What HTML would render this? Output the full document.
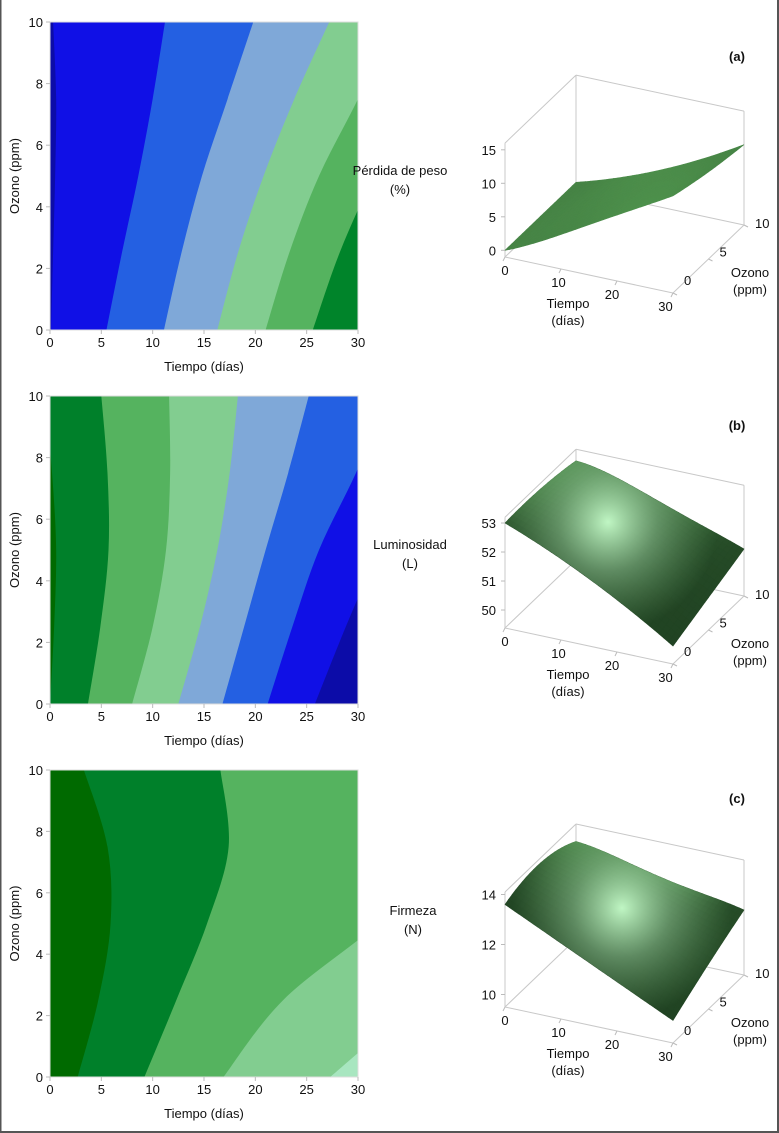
<!DOCTYPE html>
<html><head><meta charset="utf-8"><style>
html,body{margin:0;padding:0;background:#fff;}
svg{display:block;font-family:"Liberation Sans",sans-serif;}
</style></head><body>
<svg id="fig" width="779" height="1133" viewBox="0 0 779 1133" xmlns="http://www.w3.org/2000/svg">
<rect x="0.5" y="-1" width="777.5" height="1133" fill="#fff" stroke="#555" stroke-width="2"/>
<defs>
<clipPath id="clipA"><rect x="50" y="22" width="308" height="308"/></clipPath>
<clipPath id="clipB"><rect x="50" y="396" width="308" height="308"/></clipPath>
<clipPath id="clipC"><rect x="50" y="770" width="308" height="307"/></clipPath>
</defs>
<g id="layer"></g>
</svg>
<script>
// ---------- contour data (x = Tiempo at each ozone grid level) ----------
const ozGrid=[0,2.5,5,7.5,10];
const tTicks=[0,5,10,15,20,25,30];
const ozTicks=[0,2,4,6,8,10];
const colorsA=["#0c0ca8","#1010e6","#2460e2","#7fa8d8","#82cd90","#55b35f","#00842a"];
const boundsA=[[0.1,0.3,0.5,0.6,0.3],[5.5,7.0,8.6,10.0,11.2],[11.1,12.8,14.8,17.3,19.8],[16.3,18.3,20.8,23.8,27.2],[21.0,23.3,26.2,30.0,33.5],[25.6,28.2,31.5,35,38.5]];
const colorsB=["#006a00","#00802a","#55b35f","#82cd90","#7fa8d8","#2460e2","#1010e6","#0c0ca8"];
const boundsB=[[0.0,0.4,0.6,0.2,-0.5],[3.7,4.9,5.7,5.6,5.0],[8.0,10.0,11.3,11.7,11.6],[12.5,14.6,16.3,17.5,18.3],[16.8,18.9,21.0,23.2,25.2],[21.2,23.6,26.2,29.8,33],[25.8,28.8,32,35,38]];
const colorsC=["#006a00","#00802a","#55b35f","#82cd90","#a8e6c0"];
const boundsC=[[2.7,4.7,5.9,5.6,3.3],[9.2,12.3,15.3,17.4,16.6],[16.9,22.7,32,40,48],[27.3,36,45,55,65]];
// ---------- surface data ----------
const tS=[0,7.5,15,22.5,30];
const ozS=[0,5,10];
const zA=[[0,3.0,6.5,10,13.5],[0,2.5,5.5,8.5,12],[0,2,4.5,7.5,11]];
const zB=[[53.0,52.4,51.7,50.9,50.0],[53.0,52.7,52.1,51.3,50.5],[52.8,52.5,52.0,51.5,51.0]];
const zC=[[13.6,12.8,12.0,11.2,10.4],[13.9,13.4,12.8,12.0,11.3],[13.4,13.1,12.7,12.4,12.1]];
const zTicksA=[0,5,10,15], zTicksB=[50,51,52,53], zTicksC=[10,12,14];

const NS="http://www.w3.org/2000/svg";
const L=document.getElementById('layer');
const DEFS=document.querySelector('defs');
function el(tag,attrs,parent){const e=document.createElementNS(NS,tag);for(const k in attrs)e.setAttribute(k,attrs[k]);(parent||L).appendChild(e);return e;}
function txt(s,x,y,attrs,parent){const e=el('text',Object.assign({x:x,y:y,'font-size':13,fill:'#111'},attrs||{}),parent);e.textContent=s;return e;}

function contour(name,top,h,colors,bounds,clip){
  const g=el('g',{});
  
  
  const x0=50,w=308;
  const sx=t=>x0+t/30*w, sy=o=>top+h-o/10*h;
  const cg=el('g',{'clip-path':'url(#'+clip+')'},g);
  const r=el('rect',{x:x0,y:top,width:w,height:h,fill:colors[0]},cg);
  
  
  bounds.forEach((b,k)=>{
    const pts=b.map((t,i)=>[sx(t),sy(ozGrid[i])]);
    let d='M'+pts[0][0]+','+pts[0][1];
    for(let i=0;i<pts.length-1;i++){
      const p0=pts[Math.max(i-1,0)],p1=pts[i],p2=pts[i+1],p3=pts[Math.min(i+2,pts.length-1)];
      const c1=[p1[0]+(p2[0]-p0[0])/6,p1[1]+(p2[1]-p0[1])/6],c2=[p2[0]-(p3[0]-p1[0])/6,p2[1]-(p3[1]-p1[1])/6];
      d+=' C'+c1+' '+c2+' '+p2;
    }
    d+=' L'+sx(120)+','+sy(10)+' L'+sx(120)+','+sy(0)+' Z';
    const p=el('path',{d:d,fill:colors[k+1]},cg);
    
    
  });
  el('rect',{x:x0,y:top,width:w,height:h,fill:'none',stroke:'#ddd','stroke-width':1},g);
  tTicks.forEach(t=>{el('line',{x1:sx(t),x2:sx(t),y1:top+h,y2:top+h+4,stroke:'#bbb'},g);const e=txt(String(t),sx(t),top+h+17,{'text-anchor':'middle'},g);});
  ozTicks.forEach(o=>{el('line',{x1:x0-4,x2:x0,y1:sy(o),y2:sy(o),stroke:'#bbb'},g);const e=txt(String(o),x0-7,sy(o)+5,{'text-anchor':'end'},g);});
  const xt=txt('Tiempo (días)',204,top+h+41,{'text-anchor':'middle'},g);
  
  
  const yt=txt('Ozono (ppm)',0,0,{'text-anchor':'middle',transform:'translate(19,'+(top+h/2)+') rotate(-90)'},g);
  
  
}
contour('weight-loss',22,308,colorsA,boundsA,'clipA');
contour('luminosity',396,308,colorsB,boundsB,'clipB');
contour('firmness',770,307,colorsC,boundsC,'clipC');

// ---------- 3D surfaces ----------
function lag(xs,ys,x){let s=0;for(let i=0;i<xs.length;i++){let p=ys[i];for(let j=0;j<xs.length;j++)if(j!==i)p*=(x-xs[j])/(xs[i]-xs[j]);s+=p;}return s;}
function f(Z,t,o){const col=Z.map(row=>lag(tS,row,t));return lag(ozS,col,o);}
function surface(name,O,zmin,zmax,k,Z,zt,ztitle,tag,hl){
  const g=el('g',{});
  
  
  const P=(t,o,z)=>[O[0]+t/30*168+o/10*71, O[1]+t/30*36-o/10*68-(z-zmin)*k];
  const ln=(a,b)=>el('line',{x1:a[0],y1:a[1],x2:b[0],y2:b[1],stroke:'#c8c8c8','stroke-width':1},g);
  ln(P(0,0,zmin),P(0,0,zmax));ln(P(0,0,zmin),P(30,0,zmin));ln(P(30,0,zmin),P(30,10,zmin));
  ln(P(0,0,zmin),P(0,10,zmin));ln(P(0,10,zmin),P(30,10,zmin));ln(P(0,10,zmin),P(0,10,zmax));
  ln(P(30,10,zmin),P(30,10,zmax));ln(P(0,10,zmax),P(30,10,zmax));ln(P(0,0,zmax),P(0,10,zmax));
  const NT=36,NO=20, sg=el('g',{},g);
  
  
  const lx=-0.3,ly=0.35,lz=0.88, ll=Math.hypot(lx,ly,lz);
  for(let j=NO-1;j>=0;j--){for(let i=0;i<NT;i++){
    const t0=i/NT*30,t1=(i+1)/NT*30,o0=j/NO*10,o1=(j+1)/NO*10;
    const tm=(t0+t1)/2,om=(o0+o1)/2;
    const dzdt=(f(Z,t1,om)-f(Z,t0,om))*k/((t1-t0)/30*170);
    const dzdo=(f(Z,tm,o1)-f(Z,tm,o0))*k/((o1-o0)/10*98);
    const nx=-dzdt,ny=-dzdo,nz=1;const nl=Math.hypot(nx,ny,nz);
    const dot=Math.max(0,(nx*lx+ny*ly+nz*lz)/(nl*ll));
    const dif=Math.pow(dot,4);
    const r=Math.round(30+52*dif),gg=Math.round(62+90*dif),b=Math.round(32+48*dif);
    const c='rgb('+r+','+gg+','+b+')';
    const pts=[P(t0,o0,f(Z,t0,o0)),P(t1,o0,f(Z,t1,o0)),P(t1,o1,f(Z,t1,o1)),P(t0,o1,f(Z,t0,o1))];
    el('polygon',{points:pts.map(p=>p.join(',')).join(' '),fill:c,stroke:c,'stroke-width':0.6},sg);
  }}
  if(hl){
    const gid='hl-'+name;
    const rg=el('radialGradient',{id:gid,gradientUnits:'userSpaceOnUse',cx:hl[0],cy:hl[1],r:hl[2]},DEFS);
    el('stop',{offset:'0','stop-color':'#c8ffcc','stop-opacity':'0.95'},rg);
    el('stop',{offset:'0.45','stop-color':'#a8e0ac','stop-opacity':'0.45'},rg);
    el('stop',{offset:'1','stop-color':'#80c080','stop-opacity':'0'},rg);
    const ol=[];
    for(let i=0;i<=30;i++)ol.push(P(i,0,f(Z,i,0)));
    for(let i=0;i<=20;i++)ol.push(P(30,i/2,f(Z,30,i/2)));
    for(let i=30;i>=0;i--)ol.push(P(i,10,f(Z,i,10)));
    for(let i=20;i>=0;i--)ol.push(P(0,i/2,f(Z,0,i/2)));
    const hp=el('polygon',{points:ol.map(p=>p.join(',')).join(' '),fill:'url(#'+gid+')'},g);
    
    
  }
  zt.forEach(z=>{const p=P(0,0,z);el('line',{x1:p[0]-4,x2:p[0],y1:p[1],y2:p[1],stroke:'#bbb'},g);const e=txt(String(z),p[0]-9,p[1]+5,{'text-anchor':'end'},g);});
  [0,10,20,30].forEach(t=>{const p=P(t,0,zmin);el('line',{x1:p[0],x2:p[0]-2,y1:p[1],y2:p[1]+4,stroke:'#bbb'},g);const e=txt(String(t),p[0]-(t/10)*2.5,p[1]+18,{'text-anchor':'middle'},g);});
  [0,5,10].forEach(o=>{const p=P(30,o,zmin);el('line',{x1:p[0],x2:p[0]+4,y1:p[1],y2:p[1]+2,stroke:'#bbb'},g);const e=txt(String(o),p[0]+11,p[1]-13+o*1.1+5,{'text-anchor':'start'},g);});
  const b=P(0,0,zmin);
  const a1=txt('Tiempo',568,b[1]+51,{'text-anchor':'middle'},g);
  txt('(días)',568,b[1]+68,{'text-anchor':'middle'},g);
  const a2=txt('Ozono',750,b[1]+20,{'text-anchor':'middle'},g);
  txt('(ppm)',750,b[1]+37,{'text-anchor':'middle'},g);
  const a3=txt(ztitle[0],ztitle[2],ztitle[3],{'text-anchor':'middle'},g);
  txt(ztitle[1],ztitle[2],ztitle[3]+19,{'text-anchor':'middle'},g);
  const pl=txt(tag[0],737,tag[1],{'text-anchor':'middle','font-weight':'bold'},g);
}
surface('weight-loss',[505,257],-1,16,6.7,zA,zTicksA,['Pérdida de peso','(%)',400,175],['(a)',61],null);
surface('luminosity',[505,628],49.38,53.2,29,zB,zTicksB,['Luminosidad','(L)',410,549],['(b)',430],[608,522,110]);
surface('firmness',[505,1007],9.5,14.1,25,zC,zTicksC,['Firmeza','(N)',413,915],['(c)',803],[622,908,110]);
</script>
</body></html>
